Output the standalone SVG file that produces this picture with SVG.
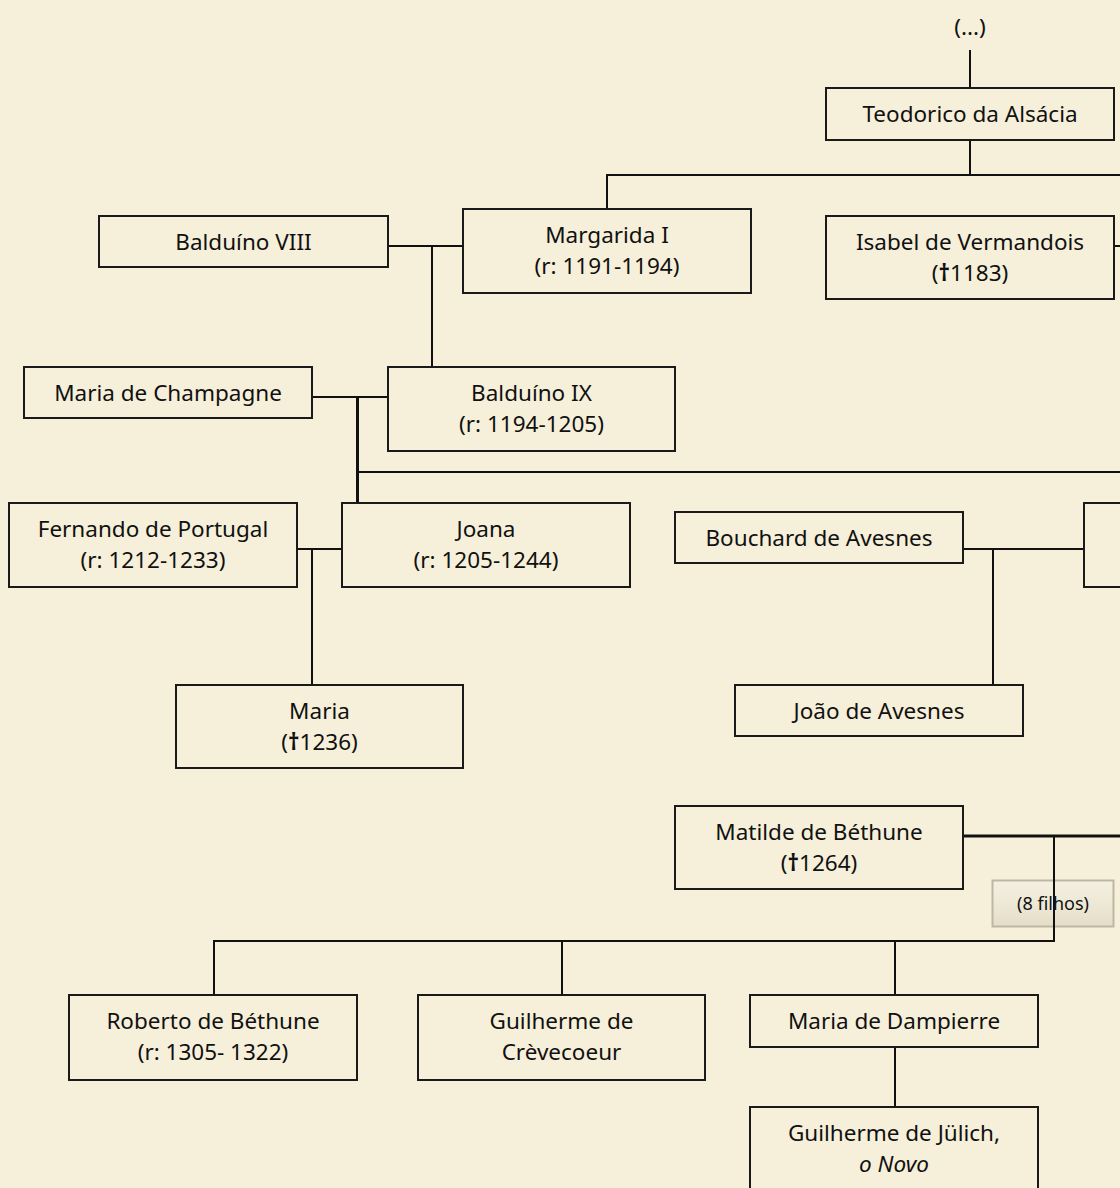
<svg xmlns="http://www.w3.org/2000/svg" width="1120" height="1188" viewBox="0 0 1120 1188">
<style>
.bg{fill:#F6F0DA}
.box{fill:#F6F0DA;stroke:#1a1a1a;stroke-width:2}
.t{font-family:"Noto Sans","Open Sans",sans-serif;font-size:22.5px;fill:#111;text-anchor:middle}
.i{font-style:italic}
.d{font-weight:bold}
.ln{stroke:#111;stroke-width:2;fill:none}
.thk{stroke:#111;stroke-width:3;fill:none}
.small{font-family:"Noto Sans","Open Sans",sans-serif;font-size:18px;fill:#111;text-anchor:middle}
</style>
<defs>
<linearGradient id="btn" x1="0" y1="0" x2="0" y2="1">
<stop offset="0" stop-color="#F4F0E2"/>
<stop offset="0.5" stop-color="#EEE9D6"/>
<stop offset="1" stop-color="#E4DEC8"/>
</linearGradient>
</defs>
<rect class="bg" x="0" y="0" width="1120" height="1188"/>

<g id="connectors">
<line class="ln" x1="970" y1="50" x2="970" y2="88"/>
<line class="ln" x1="970" y1="140" x2="970" y2="175"/>
<polyline class="ln" points="607,209 607,175 1120,175"/>
<line class="ln" x1="1114" y1="246" x2="1120" y2="246"/>
<line class="ln" x1="388" y1="246" x2="463" y2="246"/>
<line class="ln" x1="432" y1="246" x2="432" y2="367"/>
<line class="ln" x1="312" y1="397" x2="388" y2="397"/>
<line class="thk" x1="357.5" y1="397" x2="357.5" y2="503"/>
<line class="ln" x1="357" y1="472" x2="1120" y2="472"/>
<line class="ln" x1="297" y1="549" x2="342" y2="549"/>
<line class="ln" x1="312" y1="549" x2="312" y2="685"/>
<line class="ln" x1="963" y1="549" x2="1084" y2="549"/>
<line class="ln" x1="993" y1="549" x2="993" y2="685"/>
<line class="thk" x1="963" y1="836" x2="1120" y2="836"/>
<polyline class="ln" points="214,995 214,941 1054,941 1054,836"/>
<line class="ln" x1="562" y1="941" x2="562" y2="995"/>
<line class="ln" x1="895" y1="941" x2="895" y2="995"/>
<line class="ln" x1="895" y1="1047" x2="895" y2="1107"/>
</g>

<g id="top"><text class="t" x="970" y="35">(...)</text></g>

<g id="teodorico"><rect class="box" x="826" y="88" width="288" height="52"/><text class="t" x="970" y="122">Teodorico da Alsácia</text></g>
<g id="margarida"><rect class="box" x="463" y="209" width="288" height="84"/><text class="t" x="607" y="243">Margarida I</text><text class="t" x="607" y="274">(r: 1191-1194)</text></g>
<g id="isabel"><rect class="box" x="826" y="216" width="288" height="83"/><text class="t" x="970" y="250">Isabel de Vermandois</text><text class="t" x="970" y="281">(<tspan class="d">†</tspan>1183)</text></g>
<g id="balduino8"><rect class="box" x="99" y="216" width="289" height="51"/><text class="t" x="243.5" y="250">Balduíno VIII</text></g>
<g id="mariachampagne"><rect class="box" x="24" y="367" width="288" height="51"/><text class="t" x="168" y="401">Maria de Champagne</text></g>
<g id="balduino9"><rect class="box" x="388" y="367" width="287" height="84"/><text class="t" x="531.5" y="401">Balduíno IX</text><text class="t" x="531.5" y="432">(r: 1194-1205)</text></g>
<g id="fernando"><rect class="box" x="9" y="503" width="288" height="84"/><text class="t" x="153" y="537">Fernando de Portugal</text><text class="t" x="153" y="568">(r: 1212-1233)</text></g>
<g id="joana"><rect class="box" x="342" y="503" width="288" height="84"/><text class="t" x="486" y="537">Joana</text><text class="t" x="486" y="568">(r: 1205-1244)</text></g>
<g id="bouchard"><rect class="box" x="675" y="512" width="288" height="51"/><text class="t" x="819" y="546">Bouchard de Avesnes</text></g>
<g id="rightbox"><rect class="box" x="1084" y="503" width="60" height="84"/></g>
<g id="mariafilha"><rect class="box" x="176" y="685" width="287" height="83"/><text class="t" x="319.5" y="719">Maria</text><text class="t" x="319.5" y="750">(<tspan class="d">†</tspan>1236)</text></g>
<g id="joao"><rect class="box" x="735" y="685" width="288" height="51"/><text class="t" x="879" y="719">João de Avesnes</text></g>
<g id="matilde"><rect class="box" x="675" y="806" width="288" height="83"/><text class="t" x="819" y="840">Matilde de Béthune</text><text class="t" x="819" y="871">(<tspan class="d">†</tspan>1264)</text></g>
<g id="filhos"><rect x="992.5" y="880.5" width="121" height="46" fill="url(#btn)" stroke="#BDB7A4" stroke-width="2"/><text class="small" x="1053" y="910">(8 filhos)</text><line class="ln" x1="1054" y1="878" x2="1054" y2="929"/></g>
<g id="roberto"><rect class="box" x="69" y="995" width="288" height="85"/><text class="t" x="213" y="1029">Roberto de Béthune</text><text class="t" x="213" y="1060">(r: 1305- 1322)</text></g>
<g id="guilherme"><rect class="box" x="418" y="995" width="287" height="85"/><text class="t" x="561.5" y="1029">Guilherme de</text><text class="t" x="561.5" y="1060">Crèvecoeur</text></g>
<g id="mariadampierre"><rect class="box" x="750" y="995" width="288" height="52"/><text class="t" x="894" y="1029">Maria de Dampierre</text></g>
<g id="guilhermejulich"><rect class="box" x="750" y="1107" width="288" height="95"/><text class="t" x="894" y="1141">Guilherme de Jülich,</text><text class="t i" x="894" y="1172">o Novo</text></g>
</svg>
